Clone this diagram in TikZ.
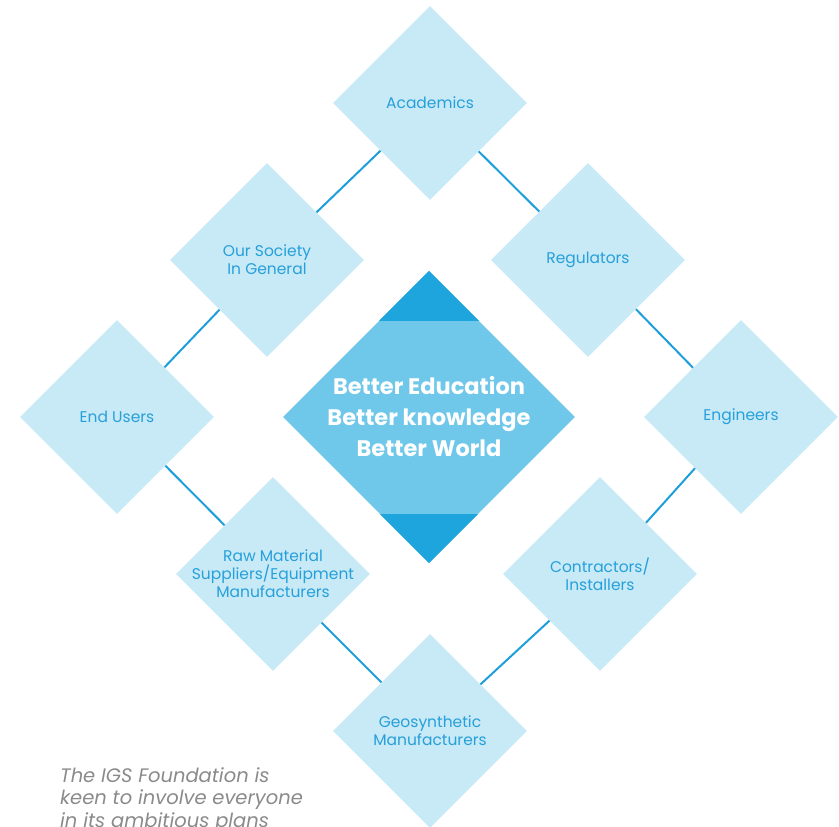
\documentclass[tikz,border=0pt]{standalone}
\usepackage{fontspec}
\setmainfont{Poppins}
\usetikzlibrary{shapes.geometric}
\definecolor{pale}{HTML}{C8E9F6}
\definecolor{mid}{HTML}{6FC7EA}
\definecolor{deep}{HTML}{1FA5DE}
\definecolor{ink}{HTML}{26A0DA}
\definecolor{wire}{HTML}{1E9FDB}
\definecolor{note}{HTML}{8A8A8A}

\begin{document}
\begin{tikzpicture}[x = 1pt, y = -1pt,
    group/.style = {diamond, aspect = 1, inner sep = 0pt, fill = pale,
        minimum width = 194pt, minimum height = 194pt,
        label = {[text = ink, align = center, font = \fontsize{15.5}{18}\selectfont]center:#1}},
    hub/.style = {diamond, aspect = 1, inner sep = 0pt, fill = mid,
        minimum width = 292pt, minimum height = 292pt},
    link/.style = {draw = wire, line width = 2pt}]
    \useasboundingbox (0,0) rectangle (839,827);
    \clip (0,0) rectangle (839,827);
    \node[hub] (hub) at (429,417) {};
    \fill[deep] (hub.north) -- ++(-50,50) -- ++(100,0) -- cycle;
    \fill[deep] (hub.south) -- ++(-49,-49) -- ++(98,0) -- cycle;
    \node[text = white, align = center, font = \fontsize{22.5}{31}\selectfont\bfseries] (motto) at (hub.center)
        {Better Education\\Better knowledge\\Better World};
    \node[group = {Academics}] (acad) at (430,103) {};
    \node[group = {Regulators}] (regu) at (588,260) {};
    \node[group = {Engineers}] (engi) at (741,417) {};
    \node[group = {Contractors/\\Installers}] (cont) at (600,574) {};
    \node[group = {Geosynthetic\\Manufacturers}] (geo) at (430,731) {};
    \node[group = {Raw Material\\Suppliers/Equipment\\Manufacturers}] (raw) at (273,574) {};
    \node[group = {End Users}] (endu) at (117,417) {};
    \node[group = {Our Society\\In General}] (soc) at (267,260) {};
    \draw[link] (acad) -- (regu);
    \draw[link] (regu) -- (engi);
    \draw[link] (engi) -- (cont);
    \draw[link] (cont) -- (geo);
    \draw[link] (geo) -- (raw);
    \draw[link] (raw) -- (endu);
    \draw[link] (endu) -- (soc);
    \draw[link] (soc) -- (acad);
    \node[anchor = north west, inner sep = 0pt, align = left, text = note,
        font = \fontsize{19.5}{22.5}\selectfont\itshape] (blurb) at (60,767)
        {The IGS Foundation is\\keen to involve everyone\\in its ambitious plans};
\end{tikzpicture}
\end{document}
